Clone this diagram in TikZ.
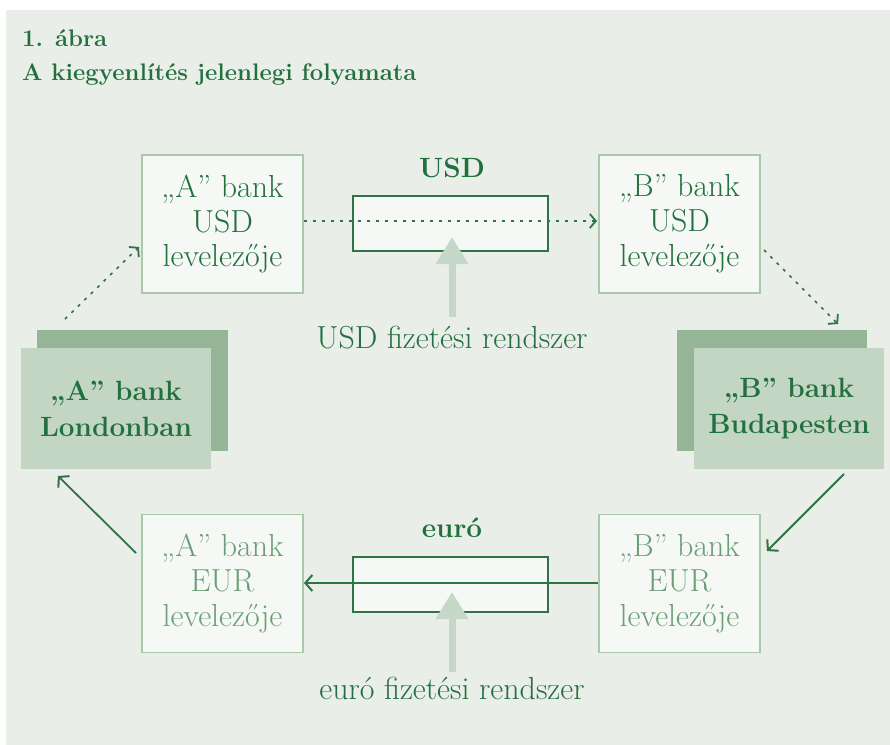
\documentclass[tikz,border=0pt]{standalone}
\usepackage{fontspec}
\setmainfont{Latin Modern Roman}
\usetikzlibrary{arrows.meta}
\definecolor{bgc}{HTML}{E9EEE8}
\definecolor{boxfill}{HTML}{F5F8F5}
\definecolor{boxline}{HTML}{A9C9AB}
\definecolor{dgreen}{HTML}{23703F}
\definecolor{lgreen}{HTML}{6B9E76}
\definecolor{frontc}{HTML}{C3D6C4}
\definecolor{backc}{HTML}{96B596}
\definecolor{bigarr}{HTML}{C5D7C6}
\definecolor{linec}{HTML}{2E7446}
\tikzset{
  corr/.style={draw=boxline, line width=1.2bp, fill=boxfill, minimum width=161bp, minimum height=138bp,
    inner sep=0pt, align=center, font=\fontsize{32}{35}\selectfont},
  payrect/.style={draw=linec, line width=1.1bp, fill=boxfill, minimum width=195bp, minimum height=55bp, inner sep=0pt},
  bankfront/.style={fill=frontc, minimum width=190bp, minimum height=121bp, inner sep=0pt, align=center,
    font=\fontsize{28}{36}\selectfont\bfseries, text=dgreen},
  bankback/.style={fill=backc, minimum width=190bp, minimum height=121bp, inner sep=0pt},
  dotarrow/.style={draw=linec, line width=1.6bp, dash pattern=on 3bp off 6bp, -{Straight Barb[length=6bp,width=14bp,line width=1.8bp]}},
  solarrow/.style={draw=linec, line width=1.8bp, -{Straight Barb[length=7bp,width=16bp,line width=2bp]}},
  bigarrow/.style={draw=bigarr, line width=7bp, -{Triangle[length=27bp,width=31bp]}},
  lbl/.style={text=dgreen, inner sep=0pt, font=\fontsize{32}{38}\selectfont},
  blbl/.style={text=dgreen, inner sep=0pt, font=\fontsize{28}{34}\selectfont\bfseries},
  ttl/.style={anchor=base west, inner sep=0pt, text=dgreen, font=\fontsize{24}{28}\selectfont\bfseries},
}
\begin{document}
\begin{tikzpicture}[x=1bp,y=-1bp]
\useasboundingbox (0,0) rectangle (890,745);
\fill[bgc] (6,10) rectangle (890,745);
% title
\node[ttl] (t1) at (22,47) {1. ábra};
\node[ttl] (t2) at (22,81) {A kiegyenlítés jelenlegi folyamata};
% correspondent boxes
\node[corr, text=dgreen] (ausd) at (222.5,224) {„A” bank\\USD\\levelezője};
\node[corr, text=dgreen] (busd) at (679.5,224) {„B” bank\\USD\\levelezője};
\node[corr, text=lgreen] (aeur) at (222.5,583.5) {„A” bank\\EUR\\levelezője};
\node[corr, text=lgreen] (beur) at (679.5,583.5) {„B” bank\\EUR\\levelezője};
% banks
\node[bankback] (lonback) at (132.5,390.5) {};
\node[bankfront] (lon) at (116,408.5) {„A” bank\\Londonban};
\node[bankback] (budback) at (772,390.5) {};
\node[bankfront] (bud) at (789,408.5) {„B” bank\\Budapesten};
% payment systems
\node[payrect] (usdsys) at (450.5,223.5) {};
\node[blbl] (usdl) at (452,168) {USD};
\node[payrect] (eursys) at (450.5,584.5) {};
\node[blbl] (eurl) at (452,528) {euró};
\node[lbl] (usdtxt) at (452,338) {USD fizetési rendszer};
\node[lbl] (eurtxt) at (452,688) {euró fizetési rendszer};
% coordinates
\coordinate (c1) at (65,319);
\coordinate (c2) at (139,247);
\coordinate (c3) at (764,250);
\coordinate (c4) at (838,324);
\coordinate (c5) at (844,474);
\coordinate (c6) at (767,551);
\coordinate (c7) at (136,553);
\coordinate (c8) at (58,476);
\coordinate (u1) at (ausd.east |- 0,221);
\coordinate (u2) at (597,221);
\coordinate (e1) at (beur.west |- 0,583);
\coordinate (e2) at (304,583);
\coordinate (ub) at (452,317);
\coordinate (ut) at (452,237);
\coordinate (eb) at (452,672);
\coordinate (et) at (452,592);
% connectors
\draw[dotarrow] (c1) -- (c2);
\draw[dotarrow] (u1) -- (u2);
\draw[dotarrow] (c3) -- (c4);
\draw[solarrow] (c5) -- (c6);
\draw[solarrow] (e1) -- (e2);
\draw[solarrow] (c7) -- (c8);
\draw[bigarrow] (ub) -- (ut);
\draw[bigarrow] (eb) -- (et);
\end{tikzpicture}
\end{document}
